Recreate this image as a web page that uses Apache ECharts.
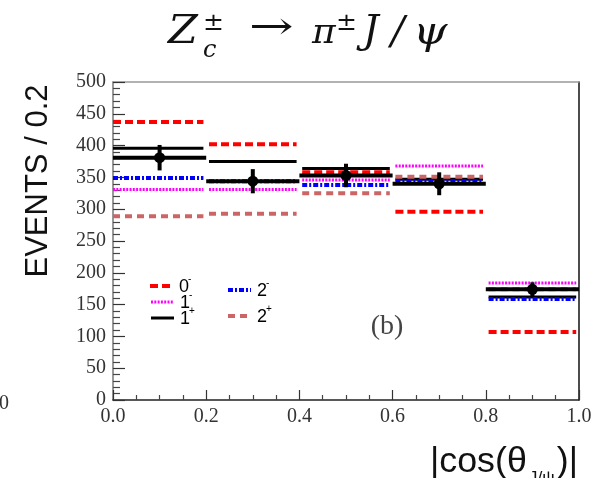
<!DOCTYPE html>
<html>
<head>
<meta charset="utf-8">
<script src="https://cdn.jsdelivr.net/npm/echarts@6/dist/echarts.min.js"></script>
<style>
  html, body { margin: 0; padding: 0; background: #fff; }
  #chart { width: 604px; height: 478px; }
</style>
</head>
<body>
<div id="chart"></div>
<script>
// Bin edges of |cos(theta_J/psi)|
const binEdges = [0.0, 0.2, 0.4, 0.6, 0.8, 1.0];
const xTickLabels = ['0.0', '0.2', '0.4', '0.6', '0.8', '1.0'];

// Spin-parity hypotheses (events per bin)
const hyp0m = [437, 402, 358, 296, 107];
const hyp1m = [331, 331, 346, 368, 184];
const hyp1p = [396, 375, 364, 347, 162];
const hyp2m = [349, 344, 338, 344, 159];
const hyp2p = [289, 293, 325, 351, 174];

// Measured yields with statistical errors
const dataVals = [381, 344, 353, 340, 174];
const dataErr = [20, 19, 18.5, 18, 11];

const SERIF = "'Liberation Serif', 'DejaVu Serif', serif";
const MATH = "'DejaVu Serif', 'Liberation Serif', serif";
const SANS = "'Liberation Sans', Arial, sans-serif";

const measureCtx = document.createElement('canvas').getContext('2d');
function textWidth(str, font) {
  measureCtx.font = font;
  return measureCtx.measureText(str).width;
}

function binItems(vals) {
  return vals.map((v, i) => [binEdges[i], binEdges[i + 1], v]);
}

function stepSeries(name, vals, color, width, dash, z) {
  return {
    name: name,
    type: 'custom',
    z: z,
    clip: false,
    data: binItems(vals),
    encode: { x: [0, 1], y: 2 },
    renderItem: function (params, api) {
      const gap = 0.006;
      const p0 = api.coord([api.value(0) + (api.value(0) === 0 ? 0 : gap), api.value(2)]);
      const p1 = api.coord([api.value(1) - gap, api.value(2)]);
      return {
        type: 'line',
        shape: { x1: p0[0], y1: p0[1], x2: p1[0], y2: p1[1] },
        style: { stroke: color, lineWidth: width, lineDash: dash, lineCap: 'butt' }
      };
    }
  };
}

const dataSeries = {
  name: 'data',
  type: 'custom',
  z: 10,
  clip: false,
  data: dataVals.map((v, i) => [binEdges[i], binEdges[i + 1], v, dataErr[i]]),
  encode: { x: [0, 1], y: 2 },
  renderItem: function (params, api) {
    const lo = api.value(0), hi = api.value(1), v = api.value(2), e = api.value(3);
    const mid = (lo + hi) / 2;
    const a = api.coord([lo, v]);
    const b = api.coord([hi, v]);
    const top = api.coord([mid, v + e]);
    const bot = api.coord([mid, v - e]);
    const c = api.coord([mid, v]);
    return {
      type: 'group',
      children: [
        { type: 'line', shape: { x1: a[0], y1: a[1], x2: b[0], y2: b[1] },
          style: { stroke: '#000', lineWidth: 4 } },
        { type: 'line', shape: { x1: top[0], y1: top[1], x2: bot[0], y2: bot[1] },
          style: { stroke: '#000', lineWidth: 4 } },
        { type: 'circle', shape: { cx: c[0], cy: c[1], r: 5.5 },
          style: { fill: '#000' } }
      ]
    };
  }
};

// Legend entries drawn as graphic samples
function legendEntry(x, y, color, width, dash, label, sup) {
  return [
    { type: 'line', shape: { x1: x, y1: y, x2: x + 23, y2: y },
      style: { stroke: color, lineWidth: width, lineDash: dash } },
    { type: 'text', style: { text: label, x: x + 29, y: y + 1, font: '18px ' + SANS,
      fill: '#000', textAlign: 'left', textVerticalAlign: 'middle' } },
    { type: 'text', style: { text: sup, x: x + 38, y: y - 7, font: '10px ' + SANS,
      fill: '#000', textAlign: 'left', textVerticalAlign: 'middle' } }
  ];
}

function mathText(str, x, y, size, italic, extra) {
  return Object.assign({
    type: 'text', x: x, y: y,
    style: { text: str, x: 0, y: 0, font: (italic ? 'italic ' : '') + size + 'px ' + MATH,
      fill: '#111', textAlign: 'left', textVerticalAlign: 'bottom' }
  }, extra || {});
}

// x-axis title |cos(θ_J/ψ)| laid out to span a fixed width
function xAxisTitle(left, right, yMid) {
  const big = '35px ' + SANS, small = '17px ' + SANS;
  const w1 = textWidth('|cos(θ', big);
  const w2 = textWidth('J/ψ', small);
  const w3 = textWidth(')|', big);
  const gap = 2;
  const total = w1 + gap + w2 + gap + w3;
  const sx = (right - left) / total;
  return {
    type: 'group', x: left, y: yMid, scaleX: sx,
    children: [
      { type: 'text', style: { text: '|cos(θ', x: 0, y: 0, font: big, fill: '#111', textAlign: 'left', textVerticalAlign: 'middle' } },
      { type: 'text', style: { text: 'J/ψ', x: w1 + gap, y: 16, font: small, fill: '#111', textAlign: 'left', textVerticalAlign: 'middle' } },
      { type: 'text', style: { text: ')|', x: w1 + gap + w2 + gap, y: 0, font: big, fill: '#111', textAlign: 'left', textVerticalAlign: 'middle' } }
    ]
  };
}

const graphics = [].concat(
  // title: Z_c^± → π^± J/ψ
  [
    mathText('Z', 168, 52, 39, true, { scaleX: 1.1 }),
    mathText('±', 203, 36, 25, false),
    mathText('c', 203, 63, 24, true),
    mathText('→', 249, 48, 38, false, { scaleX: 1.4 }),
    mathText('π', 312, 52, 36, true),
    mathText('±', 336, 36, 25, false),
    mathText('J', 363, 52, 39, true),
    mathText('/', 391, 54, 40, true),
    mathText('ψ', 413, 54, 40, true, { scaleX: 1.1 })
  ],
  // y-axis title
  [
    { type: 'text', rotation: Math.PI / 2, x: 38, y: 181,
      style: { text: 'EVENTS / 0.2', x: 0, y: 0, font: '31px ' + SANS, fill: '#111',
        textAlign: 'center', textVerticalAlign: 'middle' } }
  ],
  [xAxisTitle(430, 578, 462)],
  // neighbouring-panel remnant at the left edge
  [
    { type: 'text', style: { text: '0', x: 9, y: 404, font: '20px ' + SERIF, fill: '#333', textAlign: 'right', textVerticalAlign: 'middle' } }
  ],
  // panel label
  [
    { type: 'text', style: { text: '(b)', x: 387, y: 327, font: '28px ' + SERIF, fill: '#444', textAlign: 'center', textVerticalAlign: 'middle' } }
  ],
  legendEntry(150, 286, '#ff0000', 4, [8, 4], '0', '-'),
  legendEntry(151, 302, '#ff00ff', 3, [2, 1.3], '1', '-'),
  legendEntry(151, 318, '#000000', 3, null, '1', '+'),
  legendEntry(228, 290, '#0000ff', 4, [5, 2, 2, 2], '2', '-'),
  legendEntry(228, 316, '#cc6666', 4, [7, 5], '2', '+')
);

const chart = echarts.init(document.getElementById('chart'), null, { renderer: 'canvas' });
chart.setOption({
  animation: false,
  backgroundColor: '#fff',
  grid: { left: 113, right: 25, top: 82, bottom: 78, containLabel: false },
  xAxis: [
    {
      type: 'value', min: 0, max: 1, interval: 0.2, position: 'bottom',
      axisLine: { show: true, onZero: false, lineStyle: { color: '#222', width: 1.5 } },
      axisTick: { show: true, inside: true, length: 10, lineStyle: { color: '#333', width: 1.2 } },
      minorTick: { show: true, splitNumber: 4, length: 5, lineStyle: { color: '#444', width: 1.2 } },
      axisLabel: {
        margin: 7, color: '#333', fontFamily: SERIF, fontSize: 20,
        formatter: function (v) { return xTickLabels[Math.round(v / 0.2)]; }
      },
      splitLine: { show: false }
    },
    {
      type: 'value', min: 0, max: 1, position: 'top',
      axisLine: { show: true, onZero: false, lineStyle: { color: '#999', width: 1.5 } },
      axisTick: { show: false }, axisLabel: { show: false }, splitLine: { show: false }
    }
  ],
  yAxis: [
    {
      type: 'value', min: 0, max: 500, interval: 50, position: 'left',
      axisLine: { show: true, onZero: false, lineStyle: { color: '#777', width: 1.5 } },
      axisTick: { show: true, inside: true, length: 12, lineStyle: { color: '#333', width: 1.2 } },
      minorTick: { show: true, splitNumber: 5, length: 7, lineStyle: { color: '#444', width: 1.2 } },
      axisLabel: { margin: 7, color: '#333', fontFamily: SERIF, fontSize: 20 },
      splitLine: { show: false }
    },
    {
      type: 'value', min: 0, max: 500, position: 'right',
      axisLine: { show: true, onZero: false, lineStyle: { color: '#111', width: 1.5 } },
      axisTick: { show: false }, axisLabel: { show: false }, splitLine: { show: false }
    }
  ],
  series: [
    stepSeries('0-', hyp0m, '#ff0000', 4, [8, 4], 2),
    stepSeries('1-', hyp1m, '#ff00ff', 3, [2, 1.3], 3),
    stepSeries('1+', hyp1p, '#000000', 3, null, 4),
    stepSeries('2-', hyp2m, '#0000ff', 4, [5, 2, 2, 2], 5),
    stepSeries('2+', hyp2p, '#cc6666', 4, [7, 5], 6),
    dataSeries
  ],
  graphic: graphics
});
</script>
</body>
</html>
